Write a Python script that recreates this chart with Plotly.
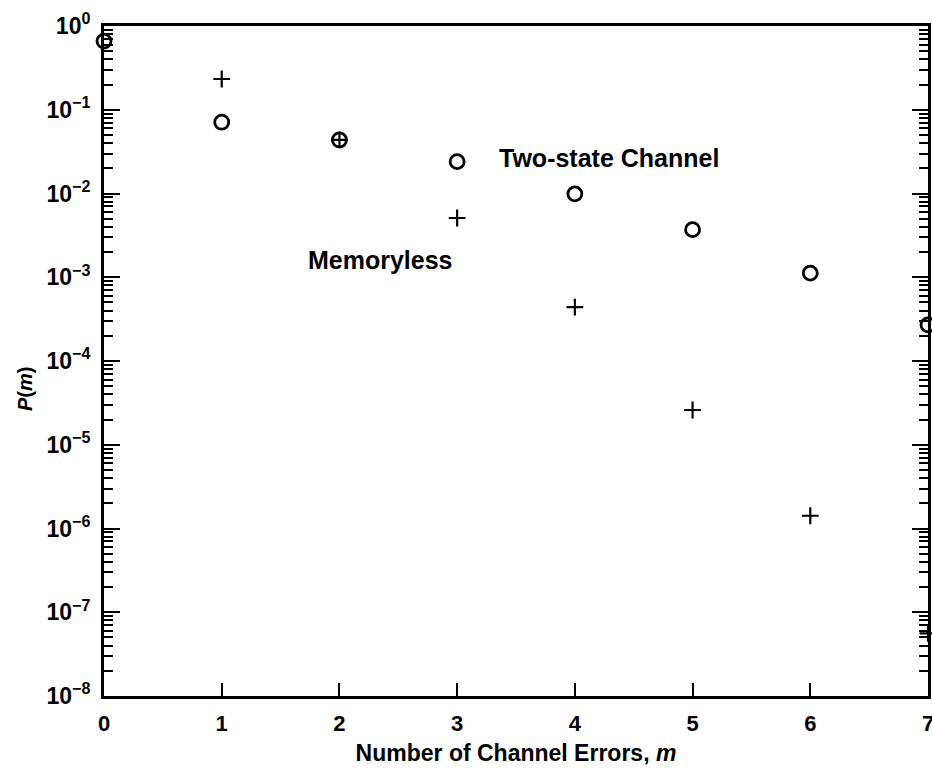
import plotly.graph_objects as go

m_two_state = [0, 1, 2, 3, 4, 5, 6, 7]
p_two_state = [0.66, 0.071, 0.0436, 0.024, 0.0099, 0.0037, 0.00112, 2.7e-4]

m_memoryless = [1, 2, 3, 4, 5, 6, 7]
p_memoryless = [0.233, 0.0436, 0.0051, 4.4e-4, 2.6e-5, 1.42e-6, 5.6e-8]

y_tick_vals = [1e0, 1e-1, 1e-2, 1e-3, 1e-4, 1e-5, 1e-6, 1e-7, 1e-8]
y_tick_text = ["<b>10<sup>0</sup></b>", "<b>10<sup>−1</sup></b>", "<b>10<sup>−2</sup></b>",
               "<b>10<sup>−3</sup></b>", "<b>10<sup>−4</sup></b>", "<b>10<sup>−5</sup></b>",
               "<b>10<sup>−6</sup></b>", "<b>10<sup>−7</sup></b>", "<b>10<sup>−8</sup></b>"]
x_tick_vals = [0, 1, 2, 3, 4, 5, 6, 7]
x_tick_text = ["<b>0</b>", "<b>1</b>", "<b>2</b>", "<b>3</b>", "<b>4</b>", "<b>5</b>",
               "<b>6</b>", "<b>7</b>"]
y_minor_vals = [k * 10.0 ** e for e in range(-8, 0) for k in range(2, 10)]

# label positions (m, log10 P)
label_two_state = (3.34, -1.576)
label_memoryless = (1.716, -2.794)

FONT = "Liberation Sans"

fig = go.Figure()
fig.add_trace(go.Scatter(
    x=m_two_state, y=p_two_state, mode="markers", name="Two-state Channel",
    cliponaxis=False,
    marker=dict(symbol="circle-open", size=14, color="black", line=dict(width=2.8)),
))
fig.add_trace(go.Scatter(
    x=m_memoryless, y=p_memoryless, mode="markers", name="Memoryless",
    cliponaxis=False,
    marker=dict(symbol="cross-thin-open", size=12, color="black", line=dict(width=2.2)),
))
# invisible trace to carry the minor-tick overlay axis
fig.add_trace(go.Scatter(x=[0], y=[1e-4], mode="markers", yaxis="y2",
                         marker=dict(opacity=0), hoverinfo="skip", showlegend=False))

fig.add_annotation(x=label_two_state[0], y=label_two_state[1], text="<b>Two-state Channel</b>",
                   showarrow=False, xanchor="left", yanchor="middle",
                   font=dict(family=FONT, size=25, color="black"))
fig.add_annotation(x=label_memoryless[0], y=label_memoryless[1], text="<b>Memoryless</b>",
                   showarrow=False, xanchor="left", yanchor="middle",
                   font=dict(family=FONT, size=25, color="black"))
# y-axis title (placed slightly below centre as in the original)
fig.add_annotation(xref="paper", yref="paper", x=-0.096, y=0.458,
                   text="<b><i>P</i>(<i>m</i>)</b>", textangle=-90, showarrow=False,
                   xanchor="center", yanchor="middle",
                   font=dict(family=FONT, size=20, color="black"))
# last x tick label, which sits on the page edge and is cut off in the original
fig.add_annotation(x=x_tick_vals[-1], xref="x", yref="paper", y=-0.041,
                   text=x_tick_text[-1], showarrow=False,
                   xanchor="center", yanchor="middle",
                   font=dict(family=FONT, size=22, color="black"))

fig.update_layout(
    width=932, height=780,
    margin=dict(l=104, r=4, t=26, b=84),
    paper_bgcolor="white", plot_bgcolor="white",
    showlegend=False,
    xaxis=dict(
        range=[0, 7], tickvals=x_tick_vals, ticktext=x_tick_text, automargin=False,
        ticks="inside", ticklen=13, tickwidth=1.5, ticklabelstandoff=6,
        tickcolor="black", showline=True, linecolor="black", linewidth=3, mirror=True,
        showgrid=False, zeroline=False,
        tickfont=dict(family=FONT, size=22, color="black"),
        title=dict(text="<b>Number of Channel Errors, <i>m</i></b>", standoff=10,
                   font=dict(family=FONT, size=23, color="black")),
    ),
    yaxis=dict(
        type="log", range=[-8, 0], tickvals=y_tick_vals, ticktext=y_tick_text,
        automargin=False,
        ticks="inside", ticklen=16, tickwidth=2, tickcolor="black", ticklabelstandoff=6,
        showline=True, linecolor="black", linewidth=3, mirror="ticks",
        showgrid=False, zeroline=False,
        tickfont=dict(family=FONT, size=23, color="black"),
    ),
    yaxis2=dict(
        type="log", range=[-8, 0], overlaying="y", side="left", automargin=False,
        tickvals=y_minor_vals, showticklabels=False,
        ticks="inside", ticklen=9, tickwidth=1.5, tickcolor="black",
        showline=False, mirror="ticks", showgrid=False, zeroline=False,
    ),
)

fig.write_html("out.html", config={"displayModeBar": False},
               post_script="document.body.style.margin='0';")
